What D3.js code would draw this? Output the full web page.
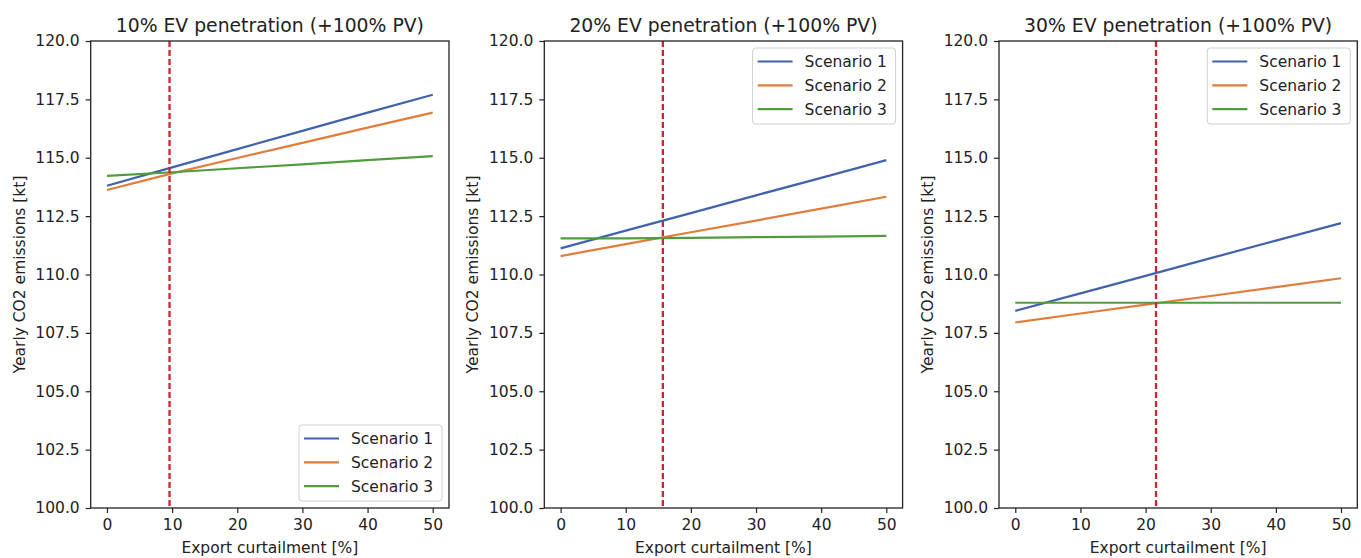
<!DOCTYPE html>
<html>
<head>
<meta charset="utf-8">
<script src="https://cdn.jsdelivr.net/npm/d3@7"></script>
<style>
  body { margin: 0; background: white; }
  text { font-family: "DejaVu Sans", sans-serif; fill: #222; }
</style>
</head>
<body>
<div id="canvas"></div>
<script>
// Chart values
var xVals = [0, 10, 20, 30, 40, 50];
var xTicks = [0, 10, 20, 30, 40, 50];
var yTicks = [100, 102.5, 105, 107.5, 110, 112.5, 115, 117.5, 120];
var titles = ["10% EV penetration (+100% PV)", "20% EV penetration (+100% PV)", "30% EV penetration (+100% PV)"];
var seriesNames = ["Scenario 1", "Scenario 2", "Scenario 3"];
var curtailLine = [9.6, 15.7, 21.6];

var panel1 = [
    [113.80, 114.59, 115.37, 116.15, 116.93, 117.70],
    [113.62, 114.33, 114.99, 115.64, 116.29, 116.93],
    [114.22, 114.38, 114.55, 114.72, 114.90, 115.07]
];
var panel2 = [
    [111.12, 111.88, 112.63, 113.39, 114.14, 114.90],
    [110.79, 111.30, 111.81, 112.31, 112.82, 113.33],
    [111.55, 111.55, 111.57, 111.60, 111.62, 111.65]
];
var panel3 = [
    [108.44, 109.19, 109.94, 110.70, 111.45, 112.20],
    [107.95, 108.33, 108.71, 109.08, 109.46, 109.84],
    [108.79, 108.79, 108.79, 108.79, 108.79, 108.79]
];
var panels = [panel1, panel2, panel3];
var legendPos = ["bottom", "top", "top"];

var colors = ["#4063ab", "#e07d3c", "#4f9c3f"];

// Dimensions
var w = 1361;
var h = 558;
var plotLeft = [90.7, 544.3, 999];
var plotW = 358.3;
var plotTop = 41;
var plotBottom = 508;
var fontSize = 15.5;

var svg = d3.select("#canvas")
    .append("svg")
    .attr("width", w)
    .attr("height", h);

panels.forEach(function(data, p) {
    var left = plotLeft[p];

    var x = d3.scaleLinear()
        .domain([-2.5, 52.5])
        .range([left, left + plotW]);

    var y = d3.scaleLinear()
        .domain([100, 120])
        .range([plotBottom, plotTop]);

    var g = svg.append("g");

    // series lines
    var line = d3.line()
        .x(function(d, i) { return x(xVals[i]); })
        .y(function(d) { return y(d); });

    data.forEach(function(s, i) {
        g.append("path")
            .datum(s)
            .attr("d", line)
            .attr("fill", "none")
            .attr("stroke", colors[i])
            .attr("stroke-width", 2.2);
    });

    // curtailment marker
    g.append("line")
        .attr("x1", x(curtailLine[p]))
        .attr("x2", x(curtailLine[p]))
        .attr("y1", y(120))
        .attr("y2", y(100))
        .attr("stroke", "#d3212f")
        .attr("stroke-width", 2.3)
        .attr("stroke-dasharray", "6,3");

    // axes
    var xAxis = g.append("g")
        .attr("transform", "translate(0," + plotBottom + ")")
        .call(d3.axisBottom(x).tickValues(xTicks).tickSize(5).tickPadding(6).tickFormat(d3.format("d")));

    var yAxis = g.append("g")
        .attr("transform", "translate(" + left + ",0)")
        .call(d3.axisLeft(y).tickValues(yTicks).tickSize(5).tickPadding(6).tickFormat(d3.format(".1f")));

    [xAxis, yAxis].forEach(function(a) {
        a.select(".domain").remove();
        a.selectAll(".tick line").attr("stroke", "#222").attr("stroke-width", 1.2);
        a.selectAll(".tick text")
            .style("font-family", "DejaVu Sans")
            .style("font-size", fontSize + "px")
            .attr("fill", "#222");
    });

    // frame
    g.append("rect")
        .attr("x", left)
        .attr("y", plotTop)
        .attr("width", plotW)
        .attr("height", plotBottom - plotTop)
        .attr("fill", "none")
        .attr("stroke", "#222")
        .attr("stroke-width", 1.3);

    // title
    g.append("text")
        .attr("x", left + plotW / 2)
        .attr("y", 31.5)
        .attr("text-anchor", "middle")
        .style("font-size", "18.8px")
        .text(titles[p]);

    // x label
    g.append("text")
        .attr("x", left + plotW / 2)
        .attr("y", 553)
        .attr("text-anchor", "middle")
        .style("font-size", fontSize + "px")
        .text("Export curtailment [%]");

    // y label
    g.append("text")
        .attr("transform", "rotate(-90)")
        .attr("x", -(plotTop + plotBottom) / 2)
        .attr("y", left - 66)
        .attr("text-anchor", "middle")
        .style("font-size", fontSize + "px")
        .text("Yearly CO2 emissions [kt]");

    // legend
    var boxW = 143, boxH = 76;
    var boxX = left + plotW - 7 - boxW;
    var boxY = legendPos[p] === "top" ? plotTop + 7 : plotBottom - 7 - boxH;
    var leg = g.append("g").attr("transform", "translate(" + boxX + "," + boxY + ")");
    leg.append("rect")
        .attr("width", boxW)
        .attr("height", boxH)
        .attr("rx", 3)
        .attr("fill", "white")
        .attr("fill-opacity", 0.85)
        .attr("stroke", "#d0d0d0")
        .attr("stroke-width", 1);
    seriesNames.forEach(function(name, i) {
        var ry = 13.5 + i * 23.8;
        leg.append("line")
            .attr("x1", 5).attr("x2", 40)
            .attr("y1", ry).attr("y2", ry)
            .attr("stroke", colors[i])
            .attr("stroke-width", 2.2);
        leg.append("text")
            .attr("x", 52)
            .attr("y", ry)
            .attr("dy", "0.36em")
            .style("font-size", fontSize + "px")
            .text(name);
    });
});
</script>
</body>
</html>
